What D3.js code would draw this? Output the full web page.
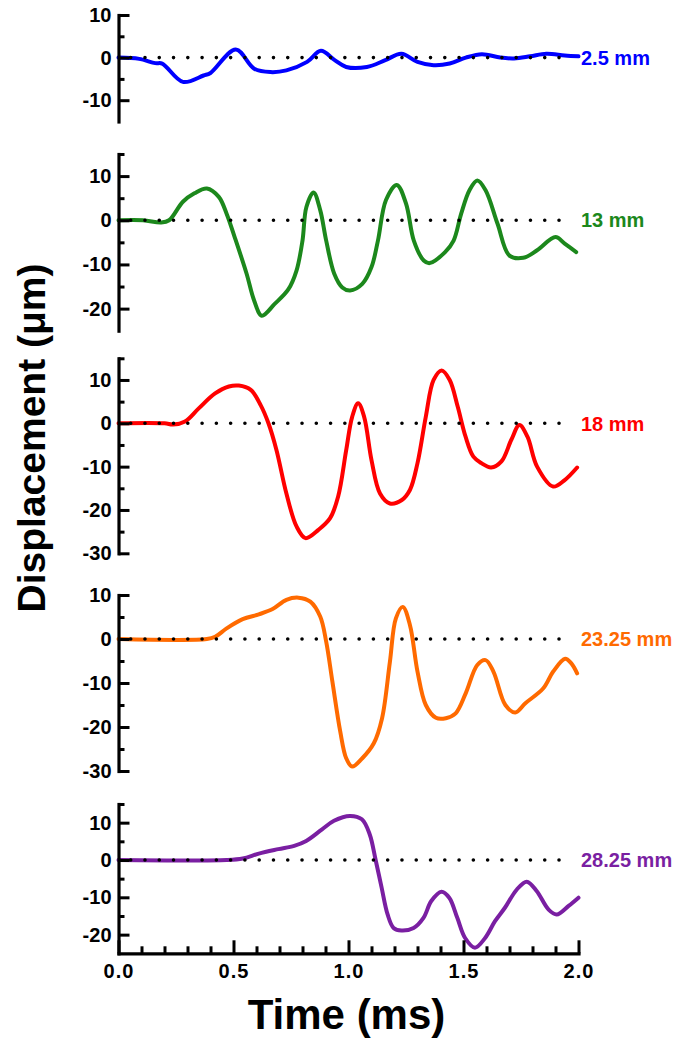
<!DOCTYPE html>
<html>
<head>
<meta charset="utf-8">
<script src="https://cdn.jsdelivr.net/npm/d3@7"></script>
<style>
  html, body { margin: 0; padding: 0; background: #fff; }
  svg { display: block; }
  text { font-family: "Liberation Sans", Arial, Helvetica, sans-serif; font-weight: bold; }
</style>
</head>
<body>
<svg id="chart" width="678" height="1040"></svg>
<script>
// ---------------- DATA ----------------
const seriesLabels = ["2.5 mm", "13 mm", "18 mm", "23.25 mm", "28.25 mm"];
const seriesColors = ["#0000ff", "#1c881c", "#ff0000", "#ff6a00", "#7a1fa2"];

const t1 = [0, 0.09, 0.16, 0.19, 0.28, 0.37, 0.40, 0.51, 0.59, 0.66, 0.73, 0.82, 0.88, 0.94, 0.99, 1.08, 1.16, 1.23, 1.30, 1.37, 1.44, 1.51, 1.58, 1.66, 1.72, 1.79, 1.86, 1.94, 2.0];
const v1 = [0, -0.3, -1.3, -1.4, -5.7, -4.2, -3.6, 1.9, -2.6, -3.4, -3.0, -1.0, 1.6, -0.6, -2.2, -2.2, -0.6, 0.9, -1.0, -1.8, -1.4, 0, 0.8, 0, -0.2, 0.3, 0.9, 0.5, 0.3];

const t2 = [0, 0.107, 0.185, 0.22, 0.28, 0.33, 0.384, 0.436, 0.47, 0.505, 0.557, 0.59, 0.623, 0.678, 0.739, 0.774, 0.80, 0.817, 0.848, 0.877, 0.903, 0.938, 0.973, 1.007, 1.06, 1.10, 1.128, 1.163, 1.21, 1.25, 1.284, 1.327, 1.353, 1.42, 1.457, 1.49, 1.526, 1.56, 1.596, 1.648, 1.70, 1.76, 1.82, 1.90, 1.94, 1.99];
const v2 = [0, 0, -0.5, 0, 4.2, 6.1, 7.2, 5.3, 1.5, -3.8, -12.1, -18.2, -21.6, -19, -15.6, -11.4, -4.6, 3, 6.3, 2.3, -4.6, -12.1, -15.2, -15.9, -14.4, -10.6, -4.6, 4.6, 8.0, 3.8, -4.6, -9.1, -9.7, -7.2, -4.6, 1.5, 6.8, 9.0, 6.8, -0.8, -8.0, -8.5, -6.8, -3.8, -5.3, -7.2];

const t3 = [0, 0.2, 0.237, 0.289, 0.35, 0.42, 0.48, 0.523, 0.575, 0.618, 0.652, 0.687, 0.73, 0.774, 0.813, 0.869, 0.92, 0.955, 0.99, 1.016, 1.042, 1.068, 1.10, 1.137, 1.18, 1.232, 1.267, 1.30, 1.336, 1.37, 1.405, 1.44, 1.475, 1.509, 1.543, 1.578, 1.62, 1.665, 1.708, 1.743, 1.778, 1.82, 1.89, 1.94, 1.994];
const v3 = [0, 0, -0.3, 0.4, 3.5, 6.9, 8.5, 8.7, 7.7, 4.2, 0, -6.2, -16.2, -23.8, -26.5, -24.6, -21.9, -16.9, -6.2, 1.5, 4.6, 1.5, -8.5, -16.2, -18.5, -17.7, -15.4, -9.2, 1.5, 10, 12.2, 10, 3.8, -3.1, -7.7, -9.2, -10.2, -8.8, -3.8, -0.4, -3.1, -10, -14.6, -13.1, -10.2];

const t4 = [0, 0.384, 0.42, 0.47, 0.54, 0.61, 0.67, 0.73, 0.782, 0.834, 0.877, 0.903, 0.93, 0.964, 0.99, 1.016, 1.06, 1.11, 1.146, 1.18, 1.206, 1.236, 1.267, 1.30, 1.336, 1.38, 1.423, 1.466, 1.51, 1.56, 1.596, 1.63, 1.682, 1.725, 1.769, 1.847, 1.89, 1.942, 1.968, 1.994];
const v4 = [0, 0, 0.5, 2.4, 4.5, 5.6, 6.8, 8.9, 9.4, 8.5, 5.1, -0.6, -9.7, -21, -27.1, -29, -27.1, -23.7, -18, -5.2, 4.7, 7.3, 3.2, -7.4, -15, -17.9, -18, -16.9, -12.3, -5.9, -4.8, -7.4, -15, -16.7, -14.6, -11.2, -7.4, -4.5, -5.5, -7.8];

const t5 = [0, 0.47, 0.54, 0.61, 0.695, 0.764, 0.816, 0.885, 0.937, 1.006, 1.058, 1.092, 1.118, 1.144, 1.17, 1.196, 1.23, 1.283, 1.326, 1.36, 1.404, 1.438, 1.473, 1.507, 1.55, 1.594, 1.637, 1.68, 1.732, 1.775, 1.818, 1.87, 1.905, 1.957, 2.0];
const v5 = [0, 0, 0.4, 1.7, 2.9, 3.8, 5.1, 8.2, 10.5, 11.8, 10.9, 6.9, 0, -7.4, -14.6, -18.2, -18.9, -18.2, -15.5, -11, -8.5, -10.1, -15.5, -20.9, -23.5, -20.9, -16.4, -12.8, -7.9, -5.8, -8.3, -13.3, -14.6, -12.3, -10.1];

const seriesTimes = [t1, t2, t3, t4, t5];
const seriesValues = [v1, v2, v3, v4, v5];

const yDomains = [[-15, 10], [-25, 15], [-30, 15], [-30, 10], [-25, 15]];
const yMajorTicks = [[10, 0, -10], [10, 0, -10, -20], [10, 0, -10, -20, -30], [10, 0, -10, -20, -30], [10, 0, -10, -20]];
const yMinorTicks = [[5, -5], [15, 5, -5, -15], [15, 5, -5, -15, -25], [5, -5, -15, -25], [15, 5, -5, -15]];

const xDomain = [0, 2];
const xMajorTicks = [0, 0.5, 1.0, 1.5, 2.0];
const xMinorTicks = [0.1, 0.2, 0.3, 0.4, 0.6, 0.7, 0.8, 0.9, 1.1, 1.2, 1.3, 1.4, 1.6, 1.7, 1.8, 1.9];

const xTitle = "Time (ms)";
const yTitle = "Displacement (\u03BCm)";

// ---------------- LAYOUT ----------------
const svg = d3.select("#chart");
const X0 = 118.5, X1 = 578.5;
const panelRanges = [[121.5, 15], [330.7, 154], [553.3, 358.3], [771, 595], [953.3, 804]];

const x = d3.scaleLinear().domain(xDomain).range([X0, X1]);

const line = d3.line().curve(d3.curveCatmullRom.alpha(0.5));

panelRanges.forEach((rng, i) => {
  const y = d3.scaleLinear().domain(yDomains[i]).range(rng);
  const g = svg.append("g");

  // curve
  const pts = seriesTimes[i].map((t, k) => [x(t), y(seriesValues[i][k])]);
  g.append("path")
    .attr("d", line(pts))
    .attr("fill", "none")
    .attr("stroke", seriesColors[i])
    .attr("stroke-width", 4)
    .attr("stroke-linejoin", "round")
    .attr("stroke-linecap", "round");

  // dotted zero line
  const xs = X0 + 12.2, xe = X1 - 5.2;
  g.append("line")
    .attr("x1", xs).attr("x2", xe)
    .attr("y1", y(0)).attr("y2", y(0))
    .attr("stroke", "#000")
    .attr("stroke-width", 3.6)
    .attr("stroke-linecap", "round")
    .attr("stroke-dasharray", `0 ${(xe - xs) / 31}`);

  // minor y ticks
  const minorAxis = d3.axisLeft(y).tickValues(yMinorTicks[i]).tickSize(-6).tickSizeOuter(0).tickFormat("");
  const gm = g.append("g").attr("transform", `translate(${X0},0)`).call(minorAxis);
  gm.select(".domain").remove();
  gm.selectAll(".tick line").attr("stroke", "#000").attr("stroke-width", 3);

  // major y ticks + labels
  const majorAxis = d3.axisLeft(y).tickValues(yMajorTicks[i]).tickSize(-11).tickSizeOuter(0).tickPadding(7).tickFormat(d3.format("d"));
  const ga = g.append("g").attr("transform", `translate(${X0},0)`).call(majorAxis);
  ga.select(".domain").attr("stroke", "#000").attr("stroke-width", 3.2).attr("stroke-linecap", "square");
  ga.selectAll(".tick line").attr("stroke", "#000").attr("stroke-width", 3);
  ga.selectAll(".tick text")
    .attr("font-size", 20).attr("fill", "#000")
    .attr("font-family", "'Liberation Sans', Arial, sans-serif").attr("font-weight", "bold")
    .text(d => d < 0 ? "-" + Math.abs(d) : d);

  // end label
  g.append("text")
    .attr("x", X1 + 2.5)
    .attr("y", y(0))
    .attr("dy", "0.36em")
    .attr("font-size", 20)
    .attr("fill", seriesColors[i])
    .text(seriesLabels[i]);

  // x axis on bottom panel
  if (i === panelRanges.length - 1) {
    const yb = rng[0];
    const xm = d3.axisBottom(x).tickValues(xMinorTicks).tickSize(-7).tickSizeOuter(0).tickFormat("");
    const gxm = g.append("g").attr("transform", `translate(0,${yb})`).call(xm);
    gxm.select(".domain").remove();
    gxm.selectAll(".tick line").attr("stroke", "#000").attr("stroke-width", 3);

    const xa = d3.axisBottom(x).tickValues(xMajorTicks).tickSize(-13).tickSizeOuter(0).tickPadding(11).tickFormat(d3.format(".1f"));
    const gx = g.append("g").attr("transform", `translate(0,${yb})`).call(xa);
    gx.select(".domain").attr("stroke", "#000").attr("stroke-width", 3.2).attr("stroke-linecap", "square");
    gx.selectAll(".tick line").attr("stroke", "#000").attr("stroke-width", 3);
    gx.selectAll(".tick text")
      .attr("font-size", 20).attr("fill", "#000")
      .attr("font-family", "'Liberation Sans', Arial, sans-serif").attr("font-weight", "bold")
      .attr("letter-spacing", 1);
  }
});

// axis titles
svg.append("text")
  .attr("x", (X0 + X1) / 2 - 2)
  .attr("y", 1029)
  .attr("text-anchor", "middle")
  .attr("font-size", 42)
  .attr("fill", "#000")
  .text(xTitle);

svg.append("text")
  .attr("transform", "translate(45,438) rotate(-90)")
  .attr("text-anchor", "middle")
  .attr("font-size", 39)
  .attr("fill", "#000")
  .text(yTitle);
</script>
</body>
</html>
